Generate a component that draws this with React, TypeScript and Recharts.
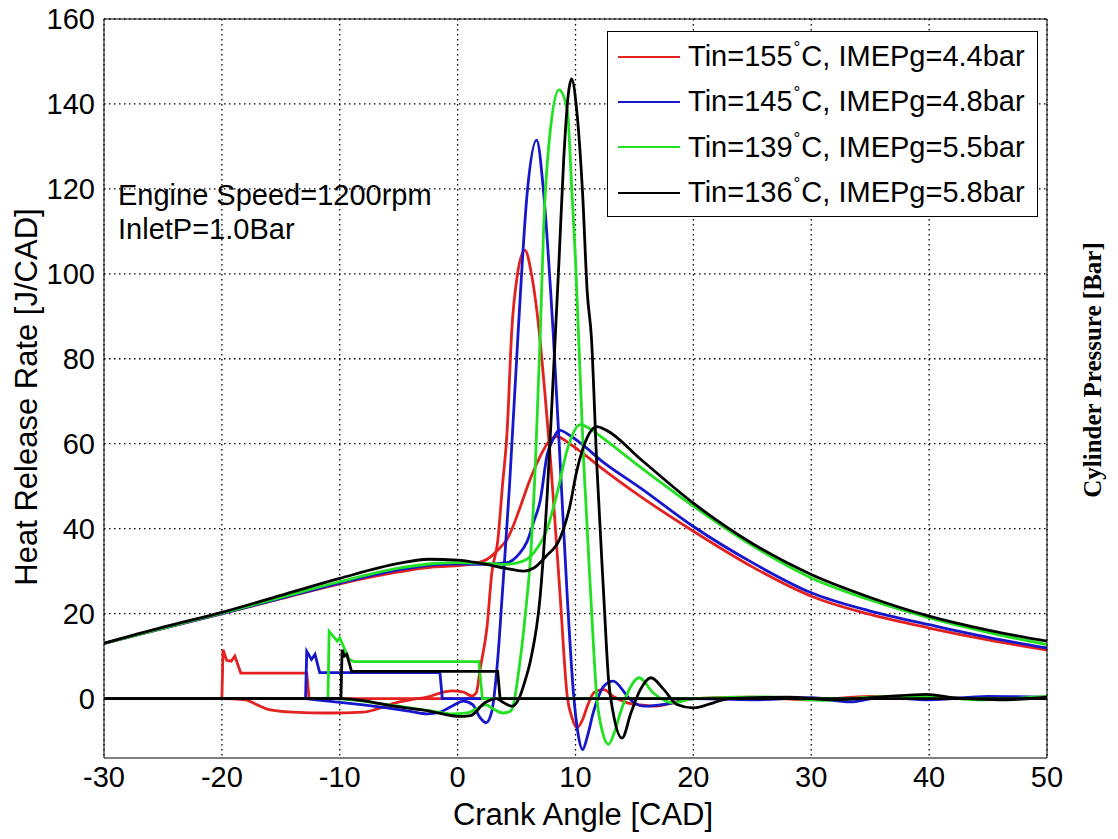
import React from 'react';
import { LineChart, Line, XAxis, YAxis, CartesianGrid } from 'recharts';

type Pt = [number, number];

// axes
const xTicks = [-30, -20, -10, 0, 10, 20, 30, 40, 50];
const yTicks = [0, 20, 40, 60, 80, 100, 120, 140, 160];

const seriesLabels = ['155', '145', '139', '136'];
const imepLabels = ['4.4', '4.8', '5.5', '5.8'];
const seriesColors = ['#e3211f', '#1616cc', '#22e022', '#000000'];

// cylinder pressure traces (broad curves)
const redPressure: Pt[] = [[-30, 13], [-25, 16.5], [-20, 20], [-15, 23.5], [-10, 27], [-5, 29.8], [-2, 31], [0, 31.3], [1.5, 31.8], [2.5, 32.8], [3.6, 35.5], [4.2, 37.5], [5.3, 45], [6, 50.5], [7, 57], [7.6, 60], [8.4, 61.7], [9.5, 60], [10.5, 58], [12.1, 54.5], [15.5, 47.6], [20, 39.4], [25, 31], [30, 24.1], [35, 19.8], [40, 16.6], [45, 13.8], [50, 11.4]];
const bluePressure: Pt[] = [[-30, 13], [-25, 16.5], [-20, 20], [-15, 23.6], [-10, 27.2], [-5, 30.3], [-2, 31.5], [0, 31.7], [2, 31.6], [4.2, 32], [5.2, 34], [5.9, 37], [6.5, 42], [7, 46.5], [7.6, 57.5], [8.1, 61], [8.6, 63.2], [9.5, 62], [10.5, 60], [12.1, 56.2], [15.5, 49.6], [20, 40.5], [25, 32], [30, 24.9], [35, 20.6], [40, 17.4], [45, 14.4], [50, 11.9]];
const greenPressure: Pt[] = [[-30, 13], [-25, 16.6], [-20, 20.1], [-15, 23.8], [-10, 27.5], [-5, 30.7], [-2, 31.8], [0, 32], [2, 31.9], [4, 31.6], [5.5, 32.3], [6.5, 34.5], [7.6, 40], [8.5, 49], [9.3, 58.6], [10.4, 64.5], [11.2, 63.6], [12.1, 61.8], [15.5, 54.5], [20, 45.3], [25, 36], [30, 28.4], [35, 23.2], [40, 19], [45, 15.6], [50, 12.7]];
const blackPressure: Pt[] = [[-30, 13], [-25, 16.8], [-20, 20.3], [-15, 24.3], [-10, 28.3], [-5, 31.8], [-2.5, 32.8], [0, 32.6], [2, 31.8], [4, 30.7], [5.6, 30], [6.5, 30.8], [7.5, 33.5], [8.7, 37.8], [9.5, 45], [10.1, 53.5], [11, 61.5], [11.8, 64], [12.6, 63.2], [15.5, 56.4], [20, 46], [25, 36.5], [30, 29.2], [35, 23.8], [40, 19.4], [45, 16.1], [50, 13.5]];

// heat release rate traces
const redHrr: Pt[] = [[-30, 0], [-20, 0], [-18, -0.3], [-17, -1.5], [-16, -2.6], [-14, -3.2], [-11, -3.4], [-8, -3.2], [-7, -2.6], [-5.5, -1.2], [-4, -0.3], [-2.5, 0.4], [-1.5, 1.3], [-0.5, 1.8], [0.5, 1.5], [1.2, 0.6], [1.6, 1.5], [1.9, 6.8], [2.5, 17], [2.9, 29.6], [3.4, 37], [3.8, 50], [4.2, 63], [4.6, 87], [5.05, 99.4], [5.7, 105.6], [6.3, 99.4], [6.9, 87], [7.4, 72], [7.9, 55.5], [8.7, 24], [9.3, 0.5], [9.7, -4.5], [10.1, -6.9], [10.6, -5], [11, -1.8], [11.6, 1.5], [12.4, 2.1], [13.2, 0.5], [14.4, -1], [15.5, -1.5], [16.9, -1.8], [18.5, -0.8], [20, 0], [25, 0.3], [30, -0.3], [35, 0.5], [40, 0.3], [45, -0.2], [50, 0.4]];
const blueHrr: Pt[] = [[-30, 0], [-13, 0], [-12, -0.3], [-10, -0.9], [-8, -1.5], [-6, -2.2], [-4, -3], [-2.6, -3.6], [-1.5, -3.2], [-0.5, -1.8], [0.5, -0.6], [1.3, -1.5], [1.9, -4.5], [2.4, -5.7], [2.9, -3], [3.4, 9.2], [3.8, 25], [4.4, 50], [5.15, 87], [5.9, 119], [6.7, 131.5], [7.3, 119], [7.9, 95.5], [8.1, 86.5], [8.7, 55.5], [9.3, 24], [9.85, 0.5], [10.2, -8], [10.6, -12], [11, -9], [11.5, -3.4], [12.4, 2.9], [13.2, 4.1], [14, 2], [14.4, 0.5], [15.8, -1.8], [18.3, -1], [20, 0], [25, -0.3], [30, 0.2], [33.3, -0.8], [36, 0.3], [40, -0.3], [45, 0.5], [50, 0.3]];
const greenHrr: Pt[] = [[-30, 0], [-10.5, 0], [-9, -0.3], [-7, -1], [-4.5, -2], [-2, -3], [-0.5, -3.6], [0.8, -3.4], [1.6, -2.4], [2.4, -1.5], [3, -2.4], [3.8, -3.4], [4.3, -3.2], [4.6, -2.6], [5.2, 6.8], [5.75, 20], [6.2, 34], [6.6, 55.5], [7, 85], [7.3, 111], [7.9, 134.7], [8.6, 143.3], [9.3, 138.6], [9.7, 119], [10, 103.3], [10.25, 86], [10.7, 55.5], [11.3, 24], [11.8, 0.5], [12.3, -8], [12.8, -10.8], [13.3, -8], [13.8, -3.4], [14.7, 2.9], [15.4, 4.9], [16.6, 1.3], [18.3, -1], [20, 0], [26, 0.4], [31, -0.4], [35, 0.3], [40, 0.6], [44, -0.3], [50, 0.5]];
const blackHrr: Pt[] = [[-30, 0], [-9.8, 0], [-8, -0.5], [-7, -1], [-4.4, -2.2], [-2.3, -3], [-1, -3.8], [0, -4.2], [1.1, -4], [2.3, -1], [3.3, 0], [3.8, -0.8], [4.6, -1.8], [5.2, 0], [5.7, 4], [6.2, 9.2], [7, 24], [7.6, 48], [8.1, 75], [8.6, 103], [9, 127], [9.4, 142.5], [9.66, 145.9], [10.1, 138.6], [10.6, 119], [11, 95.5], [11.35, 85], [11.8, 55.5], [12.4, 24], [12.8, 4.5], [13.2, -3.4], [13.95, -9.3], [14.7, -3.4], [15.5, 2.1], [16.4, 4.9], [17.5, 2.1], [18.6, -1.4], [20, -2.2], [21.7, -1], [23, 0], [28, 0.3], [32, -0.3], [36, 0.4], [39.8, 1], [42, 0.2], [46, -0.3], [50, 0.3]];

// injection command signals
const redSignal: Pt[] = [[-30, 0], [-20, 0], [-19.9, 11.5], [-19.6, 9], [-19.2, 8.8], [-18.9, 10], [-18.4, 6], [-12.8, 6], [-12.6, 0], [50, 0]];
const blueSignal: Pt[] = [[-30, 0], [-12.9, 0], [-12.8, 11.1], [-12.4, 9.2], [-12.1, 10.4], [-11.7, 6.1], [-1.5, 6.1], [-1.3, 0], [50, 0]];
const greenSignal: Pt[] = [[-30, 0], [-11, 0], [-10.9, 15.8], [-10.2, 13.5], [-10, 14.3], [-9.2, 9.2], [-8.8, 8.7], [1.8, 8.7], [2.1, 0], [50, 0]];
const blackSignal: Pt[] = [[-30, 0], [-9.9, 0], [-9.8, 11.5], [-9.6, 10], [-9.4, 10.4], [-9, 6.4], [3.4, 6.4], [3.6, 0], [50, 0]];

const toPoints = (pts: Pt[]) => pts.map(([x, y]) => ({ x, y }));

const groups = [
  [redPressure, redHrr, redSignal],
  [bluePressure, blueHrr, blueSignal],
  [greenPressure, greenHrr, greenSignal],
  [blackPressure, blackHrr, blackSignal],
];

const FONT = 'Arial, "Liberation Sans", sans-serif';
const TICK_FONT_SIZE = 29;

const XTick = ({ x, y, payload }: any) => (
  <text x={x} y={y} dy="0.71em" textAnchor="middle" fill="#000" fontSize={TICK_FONT_SIZE} fontFamily={FONT}>
    {payload.value}
  </text>
);

const YTick = ({ x, y, payload }: any) => (
  <text x={x} y={y} dy="0.36em" textAnchor="end" fill="#000" fontSize={TICK_FONT_SIZE} fontFamily={FONT}>
    {payload.value}
  </text>
);

const App: React.FC = () => {
  return (
    <div style={{ position: 'absolute', left: 0, top: 0, width: 1118, height: 839, background: '#fff', fontFamily: FONT }}>
      <LineChart width={1118} height={839} margin={{ top: 19, right: 71, bottom: 0, left: 0 }}>
        <CartesianGrid stroke="#000" strokeWidth={1.3} strokeDasharray="1.5 3.5" syncWithTicks />
        <XAxis
          type="number"
          dataKey="x"
          domain={[-30, 50]}
          ticks={xTicks}
          allowDataOverflow
          height={81}
          tickSize={0}
          tickMargin={8}
          tickLine={false}
          axisLine={{ stroke: '#000' }}
          tick={<XTick />}
        />
        <YAxis
          type="number"
          domain={[-14, 160]}
          ticks={yTicks}
          allowDataOverflow
          width={104}
          tickSize={0}
          tickMargin={9}
          tickLine={false}
          axisLine={{ stroke: '#000' }}
          tick={<YTick />}
        />
        {/* box with inward ticks */}
        <XAxis xAxisId="bottomTicks" type="number" domain={[-30, 50]} ticks={xTicks} allowDataOverflow mirror orientation="bottom" tick={false} tickSize={10} axisLine={false} tickLine={{ stroke: '#000' }} />
        <XAxis xAxisId="top" type="number" domain={[-30, 50]} ticks={xTicks} allowDataOverflow mirror orientation="top" tick={false} tickSize={10} axisLine={{ stroke: '#000' }} tickLine={{ stroke: '#000' }} />
        <YAxis yAxisId="leftTicks" type="number" domain={[-14, 160]} ticks={yTicks} allowDataOverflow mirror orientation="left" tick={false} tickSize={10} axisLine={false} tickLine={{ stroke: '#000' }} />
        <YAxis yAxisId="right" type="number" domain={[-14, 160]} ticks={yTicks} allowDataOverflow mirror orientation="right" tick={false} tickSize={10} axisLine={{ stroke: '#000' }} tickLine={{ stroke: '#000' }} />

        {groups.map((group, gi) =>
          group.map((pts, si) => (
            <Line
              key={`${gi}-${si}`}
              data={toPoints(pts)}
              dataKey="y"
              type={si === 2 ? 'linear' : 'monotone'}
              stroke={seriesColors[gi]}
              strokeWidth={2.8}
              dot={false}
              activeDot={false}
              isAnimationActive={false}
            />
          ))
        )}
      </LineChart>

      {/* axis titles */}
      <div style={{ position: 'absolute', left: 27, top: 397, transform: 'translate(-50%, -50%) rotate(-90deg)', fontSize: 31, whiteSpace: 'nowrap' }}>
        Heat Release Rate [J/CAD]
      </div>
      <div style={{ position: 'absolute', left: 583, top: 815, transform: 'translate(-50%, -50%)', fontSize: 31, whiteSpace: 'nowrap' }}>
        Crank Angle [CAD]
      </div>
      <div style={{ position: 'absolute', left: 1093, top: 370, transform: 'translate(-50%, -50%) rotate(-90deg)', fontSize: 25, fontWeight: 'bold', fontFamily: '"Times New Roman", "Liberation Serif", serif', whiteSpace: 'nowrap' }}>
        Cylinder Pressure [Bar]
      </div>

      {/* operating condition note */}
      <div style={{ position: 'absolute', left: 118, top: 178, fontSize: 29, lineHeight: '34px', whiteSpace: 'nowrap' }}>
        <div>Engine Speed=1200rpm</div>
        <div>InletP=1.0Bar</div>
      </div>

      {/* legend */}
      <div style={{ position: 'absolute', left: 607, top: 31, width: 431, height: 186, border: '1px solid #000', background: '#fff', paddingTop: 2, boxSizing: 'border-box' }}>
        {seriesLabels.map((t, i) => (
          <div key={t} style={{ height: 45.3, display: 'flex', alignItems: 'center' }}>
            <div style={{ marginLeft: 10, width: 62, height: 0, borderTop: `2.6px solid ${seriesColors[i]}` }} />
            <div style={{ marginLeft: 8, fontSize: 29, whiteSpace: 'nowrap' }}>
              Tin={t}
              <span style={{ fontSize: 17, position: 'relative', top: -13, margin: '0 1px' }}>°</span>
              C, IMEPg={imepLabels[i]}bar
            </div>
          </div>
        ))}
      </div>
    </div>
  );
};

export default App;
